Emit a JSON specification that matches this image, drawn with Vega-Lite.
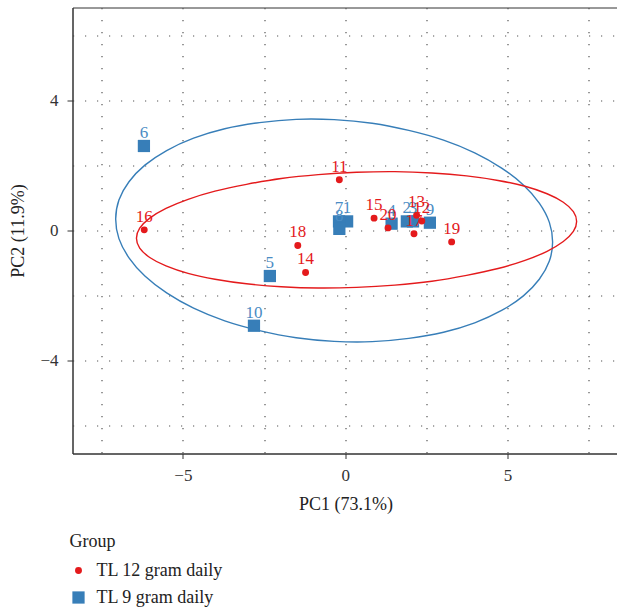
{
  "$schema": "https://vega.github.io/schema/vega-lite/v6.json",
  "width": 546,
  "height": 446,
  "autosize": {"type": "none"},
  "padding": {"left": 72.5, "top": 7.5, "right": 0, "bottom": 153.5},
  "config": {
    "font": "Liberation Serif",
    "view": {"stroke": "#333333", "strokeWidth": 1}
  },
  "datasets": {
    "pts": [
      {"group": "TL 9 gram daily", "id": "1", "pc1": 0.06, "pc2": 0.28},
      {"group": "TL 9 gram daily", "id": "2", "pc1": 1.9, "pc2": 0.28},
      {"group": "TL 9 gram daily", "id": "3", "pc1": 2.09, "pc2": 0.28},
      {"group": "TL 9 gram daily", "id": "4", "pc1": 1.43, "pc2": 0.21},
      {"group": "TL 9 gram daily", "id": "5", "pc1": -2.32, "pc2": -1.4},
      {"group": "TL 9 gram daily", "id": "6", "pc1": -6.2, "pc2": 2.6},
      {"group": "TL 9 gram daily", "id": "7", "pc1": -0.19, "pc2": 0.28},
      {"group": "TL 9 gram daily", "id": "8", "pc1": -0.18, "pc2": 0.05},
      {"group": "TL 9 gram daily", "id": "9", "pc1": 2.61, "pc2": 0.24},
      {"group": "TL 9 gram daily", "id": "10", "pc1": -2.81, "pc2": -2.93},
      {"group": "TL 12 gram daily", "id": "11", "pc1": -0.18, "pc2": 1.56},
      {"group": "TL 12 gram daily", "id": "12", "pc1": 2.36, "pc2": 0.29},
      {"group": "TL 12 gram daily", "id": "13", "pc1": 2.2, "pc2": 0.47},
      {"group": "TL 12 gram daily", "id": "14", "pc1": -1.22, "pc2": -1.29},
      {"group": "TL 12 gram daily", "id": "15", "pc1": 0.89, "pc2": 0.38},
      {"group": "TL 12 gram daily", "id": "16", "pc1": -6.19, "pc2": 0.02},
      {"group": "TL 12 gram daily", "id": "17", "pc1": 2.12, "pc2": -0.1},
      {"group": "TL 12 gram daily", "id": "18", "pc1": -1.46, "pc2": -0.46},
      {"group": "TL 12 gram daily", "id": "19", "pc1": 3.28, "pc2": -0.35},
      {"group": "TL 12 gram daily", "id": "20", "pc1": 1.32, "pc2": 0.08}
    ],
    "ell": [
      {"group": "TL 9 gram daily", "k": 0, "pc1": 6.39, "pc2": -0.35},
      {"group": "TL 9 gram daily", "k": 1, "pc1": 6.29, "pc2": 0.25},
      {"group": "TL 9 gram daily", "k": 2, "pc1": 5.98, "pc2": 0.84},
      {"group": "TL 9 gram daily", "k": 3, "pc1": 5.49, "pc2": 1.4},
      {"group": "TL 9 gram daily", "k": 4, "pc1": 4.82, "pc2": 1.92},
      {"group": "TL 9 gram daily", "k": 5, "pc1": 3.99, "pc2": 2.39},
      {"group": "TL 9 gram daily", "k": 6, "pc1": 3.03, "pc2": 2.78},
      {"group": "TL 9 gram daily", "k": 7, "pc1": 1.96, "pc2": 3.08},
      {"group": "TL 9 gram daily", "k": 8, "pc1": 0.83, "pc2": 3.3},
      {"group": "TL 9 gram daily", "k": 9, "pc1": -0.34, "pc2": 3.41},
      {"group": "TL 9 gram daily", "k": 10, "pc1": -1.51, "pc2": 3.42},
      {"group": "TL 9 gram daily", "k": 11, "pc1": -2.64, "pc2": 3.32},
      {"group": "TL 9 gram daily", "k": 12, "pc1": -3.71, "pc2": 3.13},
      {"group": "TL 9 gram daily", "k": 13, "pc1": -4.67, "pc2": 2.84},
      {"group": "TL 9 gram daily", "k": 14, "pc1": -5.5, "pc2": 2.46},
      {"group": "TL 9 gram daily", "k": 15, "pc1": -6.17, "pc2": 2.01},
      {"group": "TL 9 gram daily", "k": 16, "pc1": -6.66, "pc2": 1.5},
      {"group": "TL 9 gram daily", "k": 17, "pc1": -6.97, "pc2": 0.94},
      {"group": "TL 9 gram daily", "k": 18, "pc1": -7.07, "pc2": 0.35},
      {"group": "TL 9 gram daily", "k": 19, "pc1": -6.97, "pc2": -0.25},
      {"group": "TL 9 gram daily", "k": 20, "pc1": -6.66, "pc2": -0.84},
      {"group": "TL 9 gram daily", "k": 21, "pc1": -6.17, "pc2": -1.4},
      {"group": "TL 9 gram daily", "k": 22, "pc1": -5.5, "pc2": -1.92},
      {"group": "TL 9 gram daily", "k": 23, "pc1": -4.67, "pc2": -2.39},
      {"group": "TL 9 gram daily", "k": 24, "pc1": -3.71, "pc2": -2.78},
      {"group": "TL 9 gram daily", "k": 25, "pc1": -2.64, "pc2": -3.08},
      {"group": "TL 9 gram daily", "k": 26, "pc1": -1.51, "pc2": -3.3},
      {"group": "TL 9 gram daily", "k": 27, "pc1": -0.34, "pc2": -3.41},
      {"group": "TL 9 gram daily", "k": 28, "pc1": 0.83, "pc2": -3.42},
      {"group": "TL 9 gram daily", "k": 29, "pc1": 1.96, "pc2": -3.32},
      {"group": "TL 9 gram daily", "k": 30, "pc1": 3.03, "pc2": -3.13},
      {"group": "TL 9 gram daily", "k": 31, "pc1": 3.99, "pc2": -2.84},
      {"group": "TL 9 gram daily", "k": 32, "pc1": 4.82, "pc2": -2.46},
      {"group": "TL 9 gram daily", "k": 33, "pc1": 5.49, "pc2": -2.01},
      {"group": "TL 9 gram daily", "k": 34, "pc1": 5.98, "pc2": -1.5},
      {"group": "TL 9 gram daily", "k": 35, "pc1": 6.29, "pc2": -0.94},
      {"group": "TL 12 gram daily", "k": 0, "pc1": 7.13, "pc2": 0.28},
      {"group": "TL 12 gram daily", "k": 1, "pc1": 7.03, "pc2": 0.58},
      {"group": "TL 12 gram daily", "k": 2, "pc1": 6.72, "pc2": 0.87},
      {"group": "TL 12 gram daily", "k": 3, "pc1": 6.22, "pc2": 1.13},
      {"group": "TL 12 gram daily", "k": 4, "pc1": 5.54, "pc2": 1.36},
      {"group": "TL 12 gram daily", "k": 5, "pc1": 4.71, "pc2": 1.54},
      {"group": "TL 12 gram daily", "k": 6, "pc1": 3.74, "pc2": 1.68},
      {"group": "TL 12 gram daily", "k": 7, "pc1": 2.67, "pc2": 1.77},
      {"group": "TL 12 gram daily", "k": 8, "pc1": 1.53, "pc2": 1.81},
      {"group": "TL 12 gram daily", "k": 9, "pc1": 0.35, "pc2": 1.79},
      {"group": "TL 12 gram daily", "k": 10, "pc1": -0.83, "pc2": 1.72},
      {"group": "TL 12 gram daily", "k": 11, "pc1": -1.97, "pc2": 1.6},
      {"group": "TL 12 gram daily", "k": 12, "pc1": -3.04, "pc2": 1.42},
      {"group": "TL 12 gram daily", "k": 13, "pc1": -4.01, "pc2": 1.21},
      {"group": "TL 12 gram daily", "k": 14, "pc1": -4.84, "pc2": 0.96},
      {"group": "TL 12 gram daily", "k": 15, "pc1": -5.52, "pc2": 0.68},
      {"group": "TL 12 gram daily", "k": 16, "pc1": -6.02, "pc2": 0.38},
      {"group": "TL 12 gram daily", "k": 17, "pc1": -6.33, "pc2": 0.07},
      {"group": "TL 12 gram daily", "k": 18, "pc1": -6.43, "pc2": -0.24},
      {"group": "TL 12 gram daily", "k": 19, "pc1": -6.33, "pc2": -0.54},
      {"group": "TL 12 gram daily", "k": 20, "pc1": -6.02, "pc2": -0.83},
      {"group": "TL 12 gram daily", "k": 21, "pc1": -5.52, "pc2": -1.09},
      {"group": "TL 12 gram daily", "k": 22, "pc1": -4.84, "pc2": -1.32},
      {"group": "TL 12 gram daily", "k": 23, "pc1": -4.01, "pc2": -1.5},
      {"group": "TL 12 gram daily", "k": 24, "pc1": -3.04, "pc2": -1.64},
      {"group": "TL 12 gram daily", "k": 25, "pc1": -1.97, "pc2": -1.73},
      {"group": "TL 12 gram daily", "k": 26, "pc1": -0.83, "pc2": -1.77},
      {"group": "TL 12 gram daily", "k": 27, "pc1": 0.35, "pc2": -1.75},
      {"group": "TL 12 gram daily", "k": 28, "pc1": 1.53, "pc2": -1.68},
      {"group": "TL 12 gram daily", "k": 29, "pc1": 2.67, "pc2": -1.56},
      {"group": "TL 12 gram daily", "k": 30, "pc1": 3.74, "pc2": -1.38},
      {"group": "TL 12 gram daily", "k": 31, "pc1": 4.71, "pc2": -1.17},
      {"group": "TL 12 gram daily", "k": 32, "pc1": 5.54, "pc2": -0.92},
      {"group": "TL 12 gram daily", "k": 33, "pc1": 6.22, "pc2": -0.64},
      {"group": "TL 12 gram daily", "k": 34, "pc1": 6.72, "pc2": -0.34},
      {"group": "TL 12 gram daily", "k": 35, "pc1": 7.03, "pc2": -0.03}
    ]
  },
  "encoding": {
    "x": {
      "field": "pc1",
      "type": "quantitative",
      "title": "PC1 (73.1%)",
      "scale": {"domain": [-8.4, 8.42], "nice": false, "zero": false},
      "axis": {
        "values": [-7.5, -5, -2.5, 0, 2.5, 5, 7.5],
        "labelExpr": "datum.value % 5 === 0 ? datum.label : ''",
        "grid": true,
        "gridColor": "#555555",
        "gridDash": [1.2, 10.8],
        "gridWidth": 1.2,
        "tickOpacity": {"condition": {"test": "datum.value % 5 !== 0", "value": 0}, "value": 1},
        "tickSize": 5,
        "tickColor": "#333333",
        "domainColor": "#333333",
        "labelFontSize": 17,
        "labelColor": "#333333",
        "labelPadding": 9,
        "titleFontSize": 18,
        "titleFontWeight": "normal",
        "titleColor": "#222222",
        "titlePadding": 12
      }
    },
    "y": {
      "field": "pc2",
      "type": "quantitative",
      "title": "PC2 (11.9%)",
      "scale": {"domain": [-6.86, 6.86], "nice": false, "zero": false},
      "axis": {
        "values": [-6, -4, -2, 0, 2, 4, 6],
        "labelExpr": "datum.value % 4 === 0 ? datum.label : ''",
        "grid": true,
        "gridColor": "#555555",
        "gridDash": [1.2, 10.8],
        "gridWidth": 1.2,
        "tickOpacity": {"condition": {"test": "datum.value % 4 !== 0", "value": 0}, "value": 1},
        "tickSize": 5.5,
        "tickColor": "#333333",
        "domainColor": "#333333",
        "labelFontSize": 17,
        "labelColor": "#333333",
        "labelPadding": 9,
        "titleFontSize": 18,
        "titleFontWeight": "normal",
        "titleColor": "#222222",
        "titlePadding": 12
      }
    }
  },
  "layer": [
    {
      "data": {"name": "ell"},
      "mark": {"type": "line", "interpolate": "cardinal-closed", "strokeWidth": 1.4},
      "encoding": {
        "order": {"field": "k", "type": "quantitative"},
        "detail": {"field": "group", "type": "nominal"},
        "stroke": {
          "condition": {"test": "datum.group === 'TL 12 gram daily'", "value": "#E41A1C"},
          "value": "#377EB8"
        }
      }
    },
    {
      "data": {"name": "pts"},
      "mark": {"type": "point", "filled": true, "opacity": 1},
      "encoding": {
        "color": {
          "field": "group",
          "type": "nominal",
          "title": "Group",
          "scale": {"domain": ["TL 12 gram daily", "TL 9 gram daily"], "range": ["#E41A1C", "#377EB8"]},
          "legend": {
            "orient": "none",
            "legendX": -3,
            "legendY": 525,
            "titleFontSize": 18,
            "titleFontWeight": "normal",
            "titleColor": "#222222",
            "titlePadding": 11,
            "labelFontSize": 18,
            "labelColor": "#222222",
            "labelOffset": 9,
            "rowPadding": 9
          }
        },
        "shape": {
          "field": "group",
          "type": "nominal",
          "title": "Group",
          "scale": {"domain": ["TL 12 gram daily", "TL 9 gram daily"], "range": ["circle", "square"]}
        },
        "size": {
          "field": "group",
          "type": "nominal",
          "title": "Group",
          "scale": {"domain": ["TL 12 gram daily", "TL 9 gram daily"], "range": [48, 150]}
        }
      }
    },
    {
      "data": {"name": "pts"},
      "mark": {"type": "text", "dy": -13, "fontSize": 17, "font": "Liberation Serif", "baseline": "middle", "align": "center"},
      "encoding": {
        "text": {"field": "id", "type": "nominal"},
        "fill": {
          "condition": {"test": "datum.group === 'TL 12 gram daily'", "value": "#E41A1C"},
          "value": "#4A8CC4"
        }
      }
    }
  ]
}
